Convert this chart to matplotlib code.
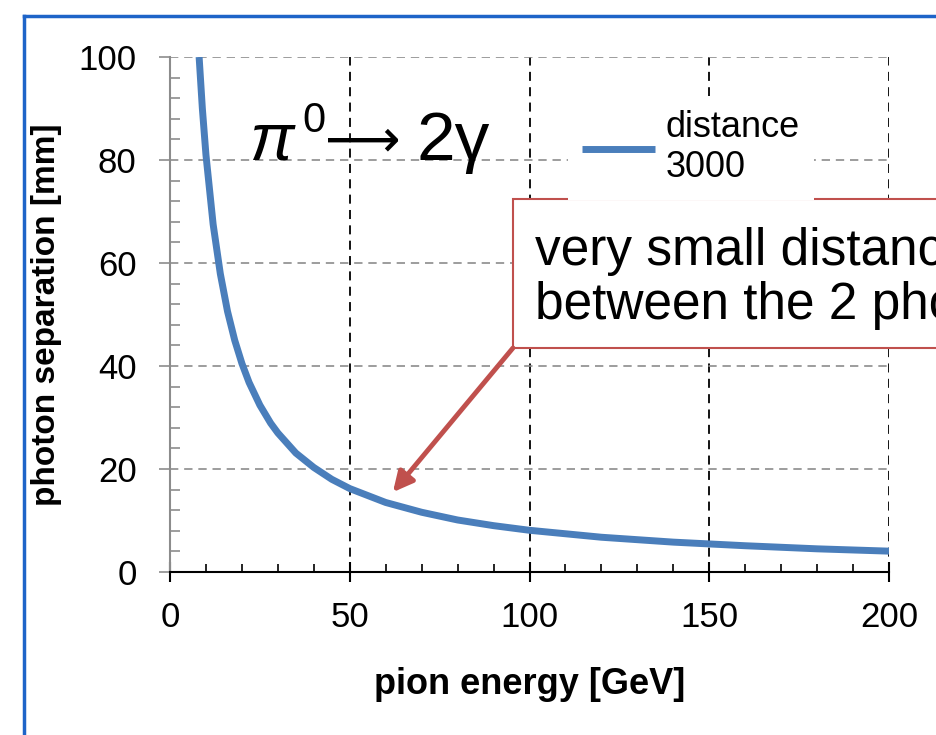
import matplotlib
matplotlib.use("Agg")
import matplotlib.pyplot as plt
from matplotlib.lines import Line2D
from matplotlib.patches import Rectangle
from matplotlib.ticker import MultipleLocator

# values (distance 3000)
energy_gev = [8.1, 9, 10, 12, 14, 16, 18, 20, 22, 25, 28, 30, 35, 40, 45, 50,
              60, 70, 80, 90, 100, 120, 140, 160, 180, 200]
separation_mm = [100, 90, 81, 67.5, 57.9, 50.6, 45, 40.5, 36.8, 32.4, 28.9, 27,
                 23.1, 20.3, 18, 16.2, 13.5, 11.6, 10.1, 9.0, 8.1, 6.75, 5.8,
                 5.1, 4.5, 4.05]
series_label = "distance\n3000"
x_ticks = [0, 50, 100, 150, 200]
y_ticks = [0, 20, 40, 60, 80, 100]

BLUE = "#4A7EBB"
RED = "#C0504D"
FONT = ["Liberation Sans", "DejaVu Sans"]

plt.rcParams["font.family"] = FONT

fig = plt.figure(figsize=(9.36, 7.35), dpi=100)
ax = fig.add_axes([170 / 936, 1 - 572 / 735, 719 / 936, 515 / 735])

ax.plot(energy_gev, separation_mm, color=BLUE, lw=5, solid_capstyle="butt",
        label=series_label, zorder=3)

ax.set_xlim(0, 200)
ax.set_ylim(0, 100)
ax.set_xticks(x_ticks)
ax.set_yticks(y_ticks)
ax.xaxis.set_minor_locator(MultipleLocator(10))
ax.yaxis.set_minor_locator(MultipleLocator(4))

ax.spines["top"].set_visible(False)
ax.spines["right"].set_visible(False)
ax.spines["bottom"].set_color("black")
ax.spines["bottom"].set_linewidth(1.5)
ax.spines["left"].set_color("#8c8c8c")
ax.spines["left"].set_linewidth(1.5)

ax.tick_params(axis="x", which="major", direction="inout", length=14, width=1.5,
               color="black", labelsize=25, pad=14)
ax.tick_params(axis="x", which="minor", direction="in", length=6, width=1.2,
               color="black")
ax.tick_params(axis="y", which="major", direction="out", length=8, width=1.2,
               color="#8c8c8c", labelsize=25, pad=16)
ax.tick_params(axis="y", which="minor", direction="in", length=7, width=1.2,
               color="#8c8c8c")

ax.grid(axis="y", which="major", color="#8c8c8c", lw=1.2, ls=(0, (5, 3.5)))
ax.grid(axis="x", which="major", color="black", lw=1.3, ls=(0, (5, 3.5)))
ax.set_axisbelow(True)

ax.set_xlabel("pion energy [GeV]", fontsize=26, fontweight="bold", labelpad=24)
ax.set_ylabel("photon separation [mm]", fontsize=24, fontweight="bold", labelpad=12)

leg = ax.legend(loc="upper left", bbox_to_anchor=(0.5535, 0.925), borderaxespad=0,
                fontsize=26, frameon=True, fancybox=False, handlelength=2.0,
                handletextpad=0.3, borderpad=0.4, labelspacing=0.2)
leg.get_frame().set_edgecolor("none")
leg.get_frame().set_facecolor("white")
leg.get_frame().set_alpha(1)

# pi0 -> 2 gamma
ax.text(22.0, 80, "π", fontsize=48, style="italic", va="baseline", ha="left")
ax.text(36.8, 85.5, "0", fontsize=30, va="baseline", ha="left")
ax.text(43.0, 80.6, "⟶", fontsize=38, va="baseline", ha="left",
        family=["DejaVu Sans"])
ax.text(68.5, 80, "2γ", fontsize=50, va="baseline", ha="left")

# callout box (runs off the right edge like the slide)
ax.add_patch(Rectangle((95.4, 43.5), 160, 28.9, facecolor="white",
                       edgecolor=RED, lw=1.5, clip_on=False, zorder=4))
ax.text(101.5, 67.0, "very small distance\nbetween the 2 photons", fontsize=37,
        va="top", ha="left", linespacing=1.12, clip_on=False, zorder=5)
ax.annotate("", xy=(62, 15.5), xytext=(95.4, 43.5),
            arrowprops=dict(arrowstyle="-|>", color=RED, lw=3.5,
                            mutation_scale=30, shrinkA=0, shrinkB=0),
            zorder=5)

# slide frame
fig.add_artist(Line2D([24 / 936, 24 / 936], [0, 1 - 16 / 735],
                      color="#1E64C8", lw=2.5, transform=fig.transFigure))
fig.add_artist(Line2D([24 / 936, 1], [1 - 16 / 735, 1 - 16 / 735],
                      color="#1E64C8", lw=2.5, transform=fig.transFigure))

fig.savefig("out.png", dpi=100)
